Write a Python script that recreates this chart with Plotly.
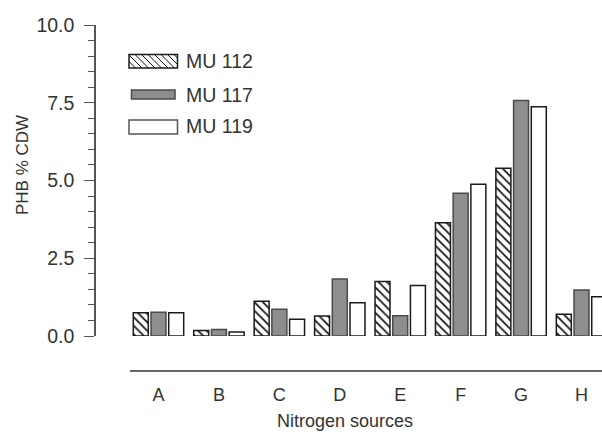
import plotly.graph_objects as go

categories = ["A", "B", "C", "D", "E", "F", "G", "H"]
mu112 = [0.75, 0.18, 1.12, 0.64, 1.75, 3.64, 5.39, 0.70]
mu117 = [0.76, 0.21, 0.86, 1.83, 0.65, 4.59, 7.57, 1.48]
mu119 = [0.75, 0.13, 0.54, 1.07, 1.62, 4.88, 7.37, 1.26]
series_names = ["MU 112", "MU 117", "MU 119"]
y_ticks = [0, 2.5, 5, 7.5, 10]

W, H = 602, 432
MT, MB, ML, MR = 25, 0, 0, 0
PW, PH = W - ML - MR, H - MT - MB


def px(x):
    return (x - ML) / PW


def py(y):
    return (H - MB - y) / PH


FONT = "Liberation Sans"
TXT = "#333333"

fig = go.Figure()
fig.add_trace(go.Bar(
    x=categories, y=mu112, name=series_names[0],
    marker=dict(color="white", line=dict(color="#1a1a1a", width=1.5),
                pattern=dict(shape="\\", fgcolor="#111111", bgcolor="white",
                             size=6, solidity=0.28, fillmode="replace")),
))
fig.add_trace(go.Bar(
    x=categories, y=mu117, name=series_names[1],
    marker=dict(color="#8e8e8e", line=dict(color="#4a4a4a", width=1.5)),
))
fig.add_trace(go.Bar(
    x=categories, y=mu119, name=series_names[2],
    marker=dict(color="white", line=dict(color="#1a1a1a", width=1.5)),
))

fig.update_layout(
    template="none",
    width=W, height=H,
    margin=dict(l=ML, r=MR, t=MT, b=MB, pad=0),
    paper_bgcolor="white", plot_bgcolor="white",
    showlegend=False,
    barmode="group", bargap=0.121, bargroupgap=0.154,
    font=dict(family=FONT, size=17, color=TXT),
    xaxis=dict(
        domain=[px(130), 1], anchor="free", position=py(371),
        range=[-0.4716, 7.339], showline=True, linecolor="#666666", linewidth=1.5,
        ticks="", showgrid=False, zeroline=False, automargin=False,
        tickfont=dict(family=FONT, size=18, color=TXT),
        ticklabelstandoff=8,
    ),
    yaxis=dict(
        domain=[py(336), 1], anchor="free", position=px(95),
        range=[0, 10], tickvals=y_ticks, tickformat=".1f",
        showline=True, linecolor="#555555", linewidth=1.5,
        ticks="outside", ticklen=10, tickwidth=1.2, tickcolor="#555555",
        minor=dict(dtick=0.5, ticks="outside", ticklen=6, tickwidth=1.2, tickcolor="#555555"),
        showgrid=False, zeroline=False, automargin=False,
        tickfont=dict(family=FONT, size=19.5, color=TXT),
        ticklabelstandoff=6,
    ),
)

annotations = [
    dict(text="Nitrogen sources", x=px(345), y=py(421), xref="paper", yref="paper",
         showarrow=False, xanchor="center", yanchor="middle",
         font=dict(family=FONT, size=18, color=TXT)),
    dict(text="PHB % CDW", x=px(23), y=py(165), xref="paper", yref="paper",
         showarrow=False, xanchor="center", yanchor="middle", textangle=-90,
         font=dict(family=FONT, size=17, color=TXT)),
]

# custom legend
leg_y = [61, 95, 126]
for name, yc in zip(series_names, leg_y):
    annotations.append(dict(text=name, x=px(184), y=py(yc), xref="paper", yref="paper",
                            showarrow=False, xanchor="left", yanchor="middle",
                            font=dict(family=FONT, size=19.5, color=TXT)))

shapes = []
# hatched box
x0, x1, y0, y1 = 129, 177.5, 54.5, 68
shapes.append(dict(type="rect", xref="paper", yref="paper", x0=px(x0), x1=px(x1),
                   y0=py(y1), y1=py(y0), fillcolor="white", line=dict(color="#1a1a1a", width=1.5)))
h = y1 - y0
s = x0 - h
while s < x1:
    t0 = max(0, x0 - s)
    t1 = min(h, x1 - s)
    if t1 > t0:
        shapes.append(dict(type="line", xref="paper", yref="paper",
                           x0=px(s + t0), y0=py(y0 + t0), x1=px(s + t1), y1=py(y0 + t1),
                           line=dict(color="#111111", width=1)))
    s += 6.5
# gray box
shapes.append(dict(type="rect", xref="paper", yref="paper", x0=px(131.5), x1=px(175),
                   y0=py(99), y1=py(90), fillcolor="#8e8e8e", line=dict(color="#4a4a4a", width=1.5)))
# white box
shapes.append(dict(type="rect", xref="paper", yref="paper", x0=px(129), x1=px(177.5),
                   y0=py(134), y1=py(120), fillcolor="white", line=dict(color="#555555", width=1.5)))

fig.update_layout(annotations=annotations, shapes=shapes)
fig.write_html("out.html", config={"displayModeBar": False},
               post_script="document.body.style.margin='0px';")
